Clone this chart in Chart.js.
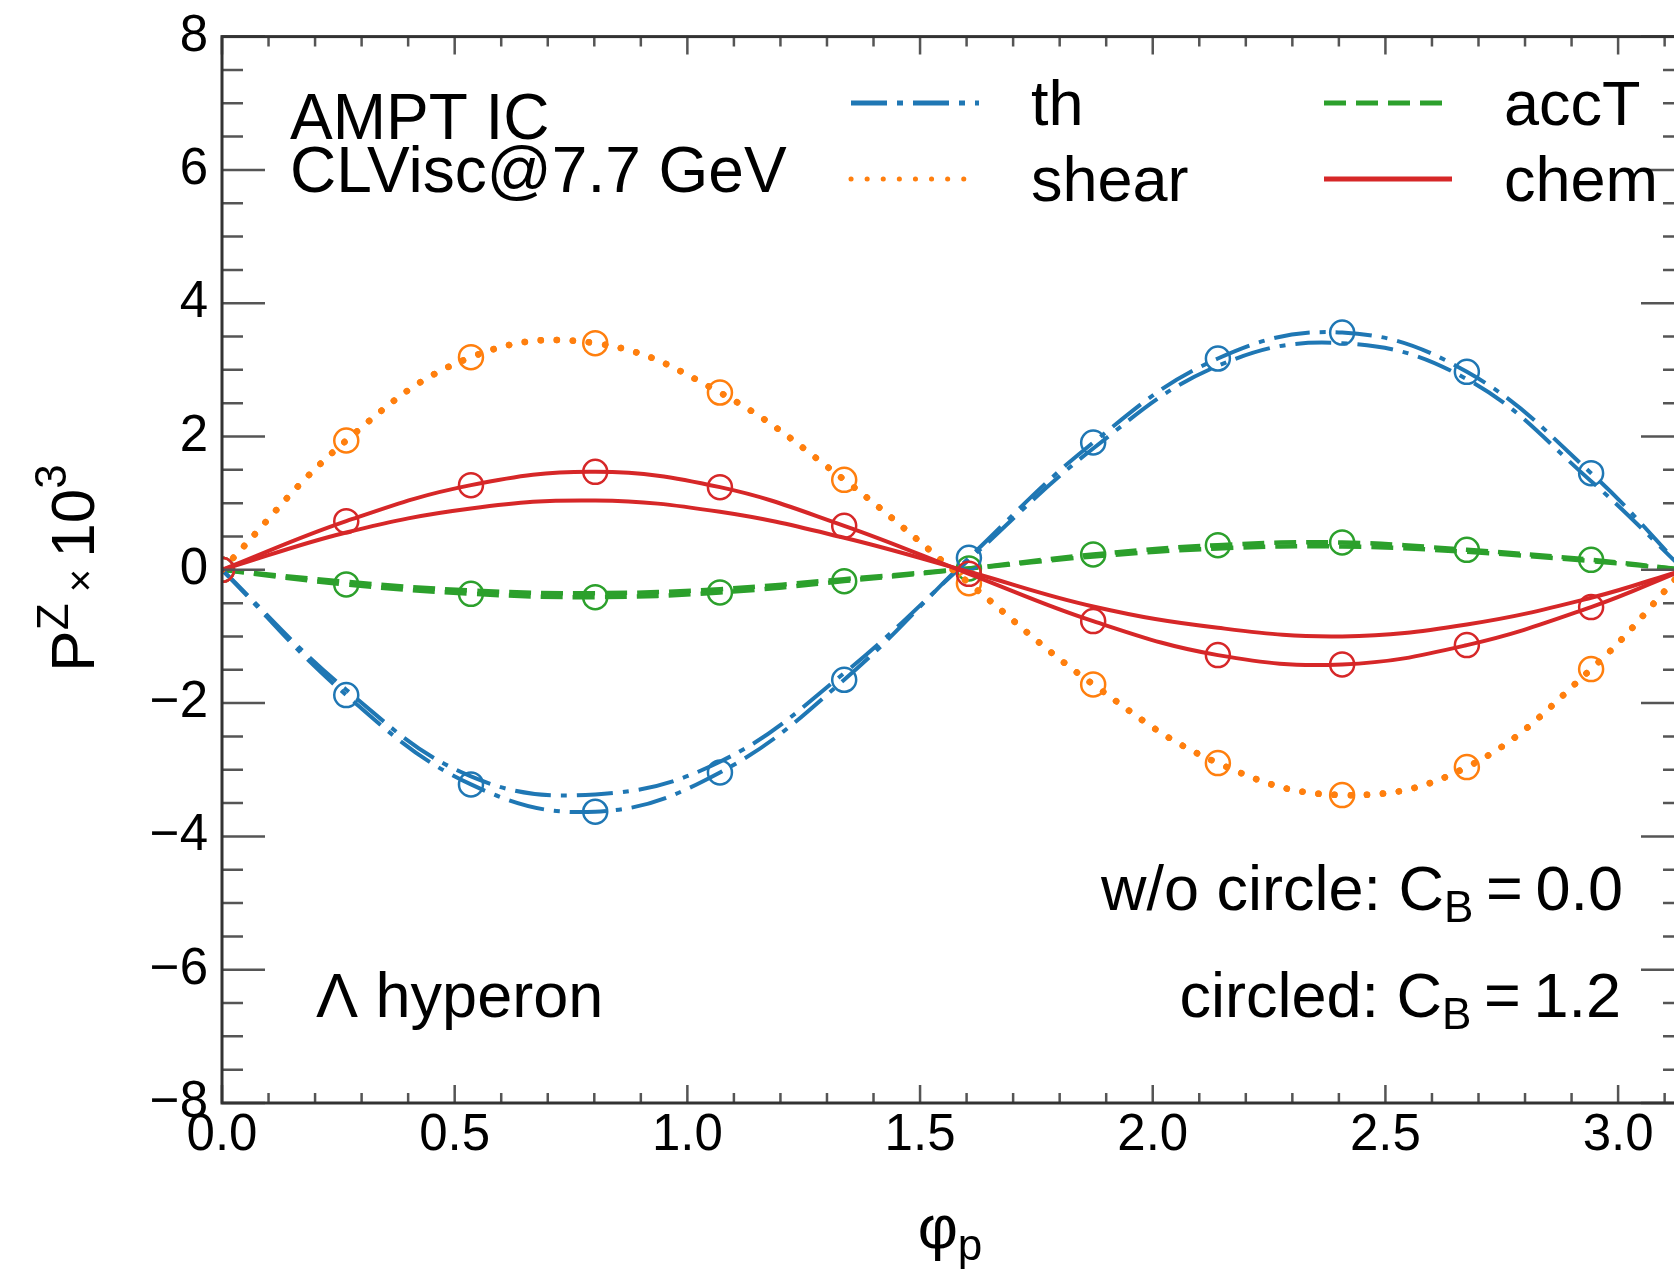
<!DOCTYPE html>
<html>
<head>
<meta charset="utf-8">
<script src="https://cdn.jsdelivr.net/npm/chart.js@4.4.1/dist/chart.umd.min.js"></script>
<style>
html, body { margin: 0; padding: 0; background: #fff; overflow: hidden; }
#wrap { width: 1700px; height: 1271px; }
</style>
</head>
<body>
<div id="wrap"><canvas id="myChart" width="1700" height="1271"></canvas></div>
<script>
// phi_p sample points (last one is the end of the range, pi)
const phi = [0, 0.267, 0.535, 0.802, 1.07, 1.337, 1.605, 1.872, 2.14, 2.407, 2.675, 2.942, 3.1416]
const xTicks = [0, 0.5, 1.0, 1.5, 2.0, 2.5, 3.0]
const yTicks = [-8, -6, -4, -2, 0, 2, 4, 6, 8]

// circled: C_B = 1.2, plain: C_B = 0.0
const thCircled    = [0, -1.88, -3.22, -3.63, -3.04, -1.65, 0.18, 1.91, 3.17, 3.56, 2.97, 1.45, 0]
const thPlain      = [0, -1.80, -3.10, -3.37, -2.88, -1.55, 0.15, 1.82, 3.06, 3.40, 2.86, 1.33, 0]
const shearCircled = [0, 1.94, 3.19, 3.40, 2.66, 1.35, -0.20, -1.72, -2.90, -3.38, -2.96, -1.49, 0]
const shearPlain   = [0, 1.94, 3.19, 3.40, 2.66, 1.35, -0.20, -1.72, -2.90, -3.38, -2.96, -1.49, 0]
const accTCircled  = [0, -0.22, -0.36, -0.41, -0.34, -0.17, 0.02, 0.23, 0.37, 0.41, 0.30, 0.15, 0]
const accTPlain    = [0, -0.18, -0.31, -0.35, -0.29, -0.14, 0.02, 0.20, 0.32, 0.35, 0.27, 0.13, 0]
const chemCircled  = [0, 0.73, 1.27, 1.47, 1.24, 0.66, -0.06, -0.77, -1.28, -1.42, -1.13, -0.56, 0]
const chemPlain    = [0, 0.56, 0.92, 1.04, 0.87, 0.48, -0.03, -0.55, -0.87, -1.00, -0.82, -0.42, 0]

const FONT = '"Liberation Sans", Arial, Helvetica, sans-serif'
const BLUE = '#1f77b4', ORANGE = '#ff7f0e', GREEN = '#2ca02c', RED = '#d62728'
const DASHDOT = [36, 10, 6, 10], DOTS = [0.1, 16], DASHED = [22, 10]

function curve(label, ys, color, dash, width, circled) {
    return {
        label: label,
        data: phi.map((x, i) => ({x: x, y: ys[i]})),
        borderColor: color,
        borderWidth: width,
        borderDash: dash,
        borderCapStyle: dash == DOTS ? 'round' : 'butt',
        tension: 0.4,
        fill: false,
        pointStyle: 'circle',
        pointRadius: circled ? (c => c.dataIndex < phi.length - 1 ? 12 : 0) : 0,
        pointHoverRadius: 0,
        pointBorderWidth: 2.5,
        pointBorderColor: color,
        pointBackgroundColor: 'rgba(0,0,0,0)'
    }
}

// draw a run of text pieces (for sub/superscripts)
function rich(c, parts, x, y, align) {
    let w = 0
    parts.forEach(p => {
        c.font = p.s + 'px ' + FONT
        p.w = c.measureText(p.t).width
        w += p.w
    })
    let cx = align == 'right' ? x - w : (align == 'center' ? x - w / 2 : x)
    parts.forEach(p => {
        c.font = p.s + 'px ' + FONT
        c.fillText(p.t, cx, y + (p.dy || 0))
        cx += p.w
    })
}

const frame = {
    id: 'frame',
    afterDatasetsDraw(chart) {
        const c = chart.ctx, a = chart.chartArea
        const x = chart.scales.x, y = chart.scales.y
        c.save()
        c.strokeStyle = '#555'
        c.lineWidth = 2.5
        c.beginPath()
        for (let i = 0; i <= 31; i++) {
            const px = x.getPixelForValue(i / 10)
            const len = i % 5 == 0 ? 18 : 10
            c.moveTo(px, a.bottom); c.lineTo(px, a.bottom - len)
            c.moveTo(px, a.top); c.lineTo(px, a.top + len)
        }
        for (let i = -16; i <= 16; i++) {
            const py = y.getPixelForValue(i / 2)
            const len = i % 4 == 0 ? 43 : 21
            c.moveTo(a.left, py); c.lineTo(a.left + len, py)
            c.moveTo(a.right, py); c.lineTo(a.right - len, py)
        }
        c.stroke()
        c.strokeStyle = '#333'
        c.lineWidth = 3
        c.strokeRect(a.left, a.top, a.width, a.height)
        c.restore()
    }
}

const texts = {
    id: 'texts',
    afterDraw(chart) {
        const c = chart.ctx
        c.save()
        c.fillStyle = '#000'
        c.textBaseline = 'alphabetic'
        rich(c, [{t: 'AMPT IC', s: 64}], 290, 139, 'left')
        rich(c, [{t: 'CLVisc@7.7 GeV', s: 64}], 290, 192, 'left')
        rich(c, [{t: '\u039B hyperon', s: 63}], 316, 1017, 'left')
        rich(c, [{t: 'w/o circle: C', s: 63}, {t: 'B', s: 44, dy: 12}, {t: '\u2009=\u20090.0', s: 63}], 1623, 910, 'right')
        rich(c, [{t: 'circled: C', s: 63}, {t: 'B', s: 44, dy: 12}, {t: '\u2009=\u20091.2', s: 63}], 1621, 1017, 'right')

        // legend, two columns
        const leg = [
            ['th', BLUE, DASHDOT, 851, 103],
            ['shear', ORANGE, DOTS, 851, 179],
            ['accT', GREEN, DASHED, 1324, 103],
            ['chem', RED, [], 1324, 179]
        ]
        leg.forEach(l => {
            c.save()
            c.strokeStyle = l[1]
            c.lineWidth = 5
            c.setLineDash(l[2])
            c.lineCap = l[2] == DOTS ? 'round' : 'butt'
            c.beginPath()
            c.moveTo(l[3], l[4]); c.lineTo(l[3] + 128, l[4])
            c.stroke()
            c.restore()
            rich(c, [{t: l[0], s: 63}], l[3] + 180, l[4] + 22, 'left')
        })

        // axis titles
        rich(c, [{t: '\u03C6', s: 62}, {t: 'p', s: 44, dy: 12}], 950, 1248, 'center')
        c.translate(94, 568)
        c.rotate(-Math.PI / 2)
        rich(c, [{t: 'P', s: 62}, {t: 'Z', s: 44, dy: -26}, {t: ' \u00D7 ', s: 40}, {t: '10', s: 62}, {t: '3', s: 44, dy: -28}], 0, 0, 'center')
        c.restore()
    }
}

const mychart = new Chart(document.getElementById('myChart'), {
    type: 'line',
    data: {
        datasets: [
            curve('chem', chemCircled, RED, [], 4, true),
            curve('chem', chemPlain, RED, [], 4, false),
            curve('shear', shearCircled, ORANGE, DOTS, 6.5, true),
            curve('shear', shearPlain, ORANGE, DOTS, 6.5, false),
            curve('th', thCircled, BLUE, DASHDOT, 4, true),
            curve('th', thPlain, BLUE, DASHDOT, 4, false),
            curve('accT', accTCircled, GREEN, DASHED, 4.5, true),
            curve('accT', accTPlain, GREEN, DASHED, 4.5, false)
        ]
    },
    options: {
        responsive: false,
        devicePixelRatio: 1,
        animation: false,
        events: [],
        layout: { padding: { left: 0, top: 23, right: 16, bottom: 0 } },
        plugins: {
            legend: { display: false },
            tooltip: { enabled: false }
        },
        scales: {
            x: {
                type: 'linear',
                position: 'bottom',
                min: 0,
                max: Math.PI,
                grid: { display: false },
                border: { display: false },
                afterBuildTicks: s => { s.ticks = xTicks.map(v => ({value: v})) },
                afterFit: s => { s.height = 168 },
                ticks: {
                    autoSkip: false,
                    maxRotation: 0,
                    padding: -6,
                    color: '#000',
                    font: { family: FONT, size: 51 },
                    callback: v => v.toFixed(1)
                }
            },
            y: {
                type: 'linear',
                min: -8,
                max: 8,
                grid: { display: false },
                border: { display: false },
                afterBuildTicks: s => { s.ticks = yTicks.map(v => ({value: v})) },
                afterFit: s => { s.width = 222 },
                ticks: {
                    autoSkip: false,
                    padding: 6,
                    color: '#000',
                    font: { family: FONT, size: 51 },
                    callback: v => v < 0 ? '\u2212' + Math.abs(v) : String(v)
                }
            }
        }
    },
    plugins: [frame, texts]
})
</script>
</body>
</html>
